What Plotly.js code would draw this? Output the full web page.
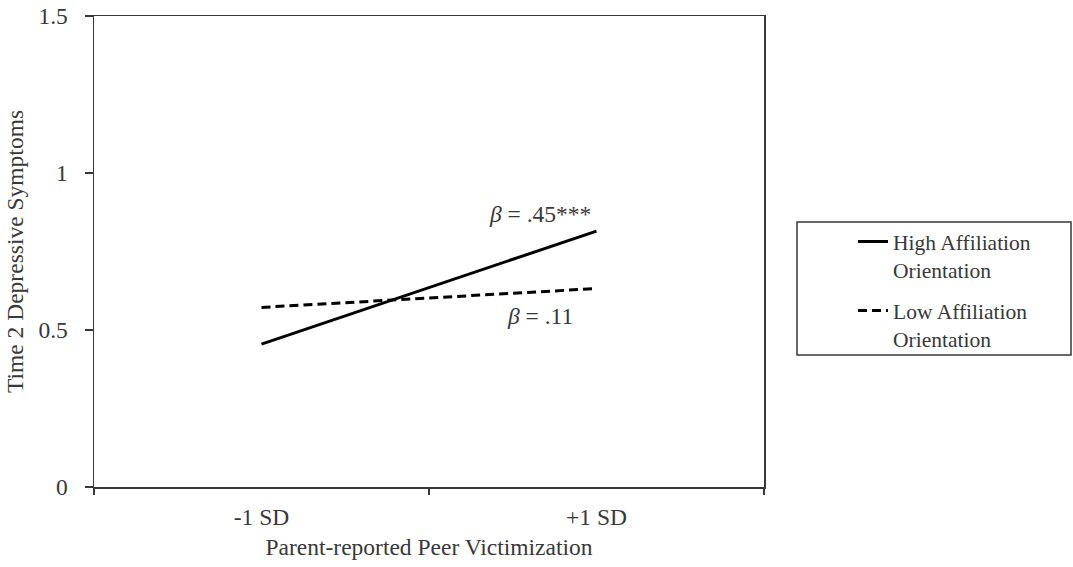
<!DOCTYPE html>
<html>
<head>
<meta charset="utf-8">
<script src="https://cdn.plot.ly/plotly-3.0.1.min.js"></script>
<style>
  html, body { margin: 0; padding: 0; background: #fff; }
  #chart { width: 1073px; height: 567px; }
</style>
</head>
<body>
<div id="chart"></div>
<script>
// Simple slopes: depressive symptoms at low/high peer victimization
const victimLevels = ['-1 SD', '+1 SD'];
const highAffiliation = [0.455, 0.815];
const lowAffiliation = [0.572, 0.632];
const seriesNames = ['High Affiliation<br>Orientation', 'Low Affiliation<br>Orientation'];
const slopeLabels = ['<i>β</i> = .45***', '<i>β</i> = .11'];
const slopeLabelX = [0.83, 0.83];
const slopeLabelY = [0.87, 0.545];
const yTicks = [0, 0.5, 1, 1.5];

const FONT = 'Liberation Serif, Times New Roman, serif';
const INK = '#383838';
const FS = 23.5;
const LEGEND_FS = 21.5;

const traces = [
  {
    x: victimLevels, y: highAffiliation, name: seriesNames[0],
    type: 'scatter', mode: 'lines', legendgroup: 'high',
    line: { color: '#000', width: 3, dash: 'solid' }
  },
  {
    x: victimLevels, y: lowAffiliation, name: seriesNames[1],
    type: 'scatter', mode: 'lines', legendgroup: 'low',
    line: { color: '#000', width: 3, dash: '9px,5px' }
  }
];

const layout = {
  width: 1073, height: 567,
  margin: { l: 94, r: 309, t: 16, b: 80 },
  paper_bgcolor: '#fff', plot_bgcolor: '#fff',
  font: { family: FONT, size: FS, color: INK },
  showlegend: true,
  xaxis: {
    type: 'category',
    range: [-0.5, 1.5],
    tickson: 'boundaries',
    ticks: 'outside', ticklen: 6, tickwidth: 1.5, tickcolor: INK,
    ticklabelstandoff: 8,
    showline: true, linecolor: INK, linewidth: 1.5, mirror: true,
    showgrid: false, zeroline: false,
    tickfont: { family: FONT, size: FS, color: INK },
    title: { text: 'Parent-reported Peer Victimization', font: { family: FONT, size: FS, color: INK }, standoff: 10 }
  },
  yaxis: {
    range: [0, 1.5],
    tickvals: yTicks,
    ticktext: yTicks.map(String),
    ticks: 'outside', ticklen: 8, tickwidth: 1.5, tickcolor: INK,
    ticklabelstandoff: 12,
    showline: true, linecolor: INK, linewidth: 1.5, mirror: true,
    showgrid: false, zeroline: false,
    tickfont: { family: FONT, size: FS, color: INK },
    title: { text: 'Time 2 Depressive Symptoms', font: { family: FONT, size: FS, color: INK }, standoff: 8 }
  },
  legend: {
    xref: 'container', yref: 'container',
    x: 0.795, y: 0.61, xanchor: 'left', yanchor: 'top',
    bgcolor: 'rgba(0,0,0,0)', borderwidth: 0,
    valign: 'top',
    traceorder: 'grouped', tracegroupgap: 10,
    font: { family: FONT, size: LEGEND_FS, color: INK }
  },
  shapes: [
    {
      type: 'rect', xref: 'paper', yref: 'paper',
      x0: (797 - 94) / 670, x1: (1071 - 94) / 670,
      y0: (487 - 355) / 471, y1: (487 - 222) / 471,
      line: { color: INK, width: 1.5 }, fillcolor: 'rgba(0,0,0,0)'
    }
  ],
  annotations: slopeLabels.map((t, i) => ({
    text: t, x: slopeLabelX[i], y: slopeLabelY[i], xref: 'x', yref: 'y',
    showarrow: false, font: { family: FONT, size: FS, color: INK }
  }))
};

Plotly.newPlot('chart', traces, layout, { displayModeBar: false, staticPlot: true });
</script>
</body>
</html>
